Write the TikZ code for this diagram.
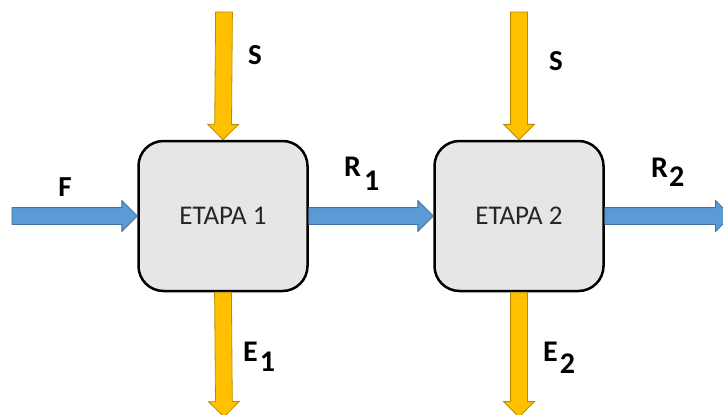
\documentclass[tikz,border=0pt]{standalone}
\usepackage{fontspec}
\setmainfont{Carlito}
\usetikzlibrary{shapes.arrows,calc}

\definecolor{cajagris}{HTML}{E7E6E6}
\definecolor{azul}{HTML}{5B9BD5}
\definecolor{azulborde}{HTML}{41719C}
\definecolor{amarillo}{HTML}{FFC000}
\definecolor{amarilloborde}{HTML}{BC8C00}

\begin{document}
\begin{tikzpicture}[x=1pt, y=-1pt,
    etapa/.style={draw=black, line width=2.5pt, fill=cajagris, rounded corners=25pt,
        minimum width=169pt, minimum height=150pt, inner sep=0pt,
        font=\fontsize{27}{27}\selectfont, text=black!85},
    flecha/.style={single arrow, single arrow head extend=7pt, single arrow tip angle=90,
        inner xsep=0pt, inner ysep=8pt, outer sep=0pt, line width=0.8pt,
        sloped, allow upside down, pos=0, anchor=tail},
    flechaazul/.style={flecha, fill=azul, draw=azulborde},
    flechaamarilla/.style={flecha, fill=amarillo, draw=amarilloborde},
    etiqueta/.style={inner sep=0pt, font=\fontsize{29}{29}\selectfont\bfseries},
    etiquetasub/.style={inner sep=0pt, anchor=base west, font=\fontsize{30}{30}\selectfont\bfseries}]

    \useasboundingbox (0,0) rectangle (723,415);

    % etapas
    \node[etapa] (etapa1) at (223,216) {ETAPA 1};
    \node[etapa] (etapa2) at (519,216) {ETAPA 2};

    % extremos libres
    \coordinate (alimento) at (12,216);
    \coordinate (s1) at (224,12);
    \coordinate (e1) at (224,417);
    \coordinate (s2) at (519,12);
    \coordinate (e2) at (519,417);
    \coordinate (r2) at (731,216);

    % corrientes
    \path let \p1=($(etapa1.west)-(alimento)$), \n1={veclen(\x1,\y1)} in
        (alimento) -- (etapa1.west) node[flechaazul, minimum height=\n1] (fF) {};
    \path let \p1=($(etapa2.west)-(etapa1.east)$), \n1={veclen(\x1,\y1)} in
        (etapa1.east) -- (etapa2.west) node[flechaazul, minimum height=\n1] (fR1) {};
    \path let \p1=($(r2)-(etapa2.east)$), \n1={veclen(\x1,\y1)} in
        (etapa2.east) -- (r2) node[flechaazul, minimum height=\n1] (fR2) {};
    \path let \p1=($(etapa1.north)-(s1)$), \n1={veclen(\x1,\y1)} in
        (s1) -- (etapa1.north) node[flechaamarilla, minimum height=\n1] (fS1) {};
    \path let \p1=($(e1)-(etapa1.south)$), \n1={veclen(\x1,\y1)} in
        (etapa1.south) -- (e1) node[flechaamarilla, minimum height=\n1] (fE1) {};
    \path let \p1=($(etapa2.north)-(s2)$), \n1={veclen(\x1,\y1)} in
        (s2) -- (etapa2.north) node[flechaamarilla, minimum height=\n1] (fS2) {};
    \path let \p1=($(e2)-(etapa2.south)$), \n1={veclen(\x1,\y1)} in
        (etapa2.south) -- (e2) node[flechaamarilla, minimum height=\n1] (fE2) {};

    % etiquetas
    \node[etiqueta] (lF) at (65,187) {F};
    \node[etiqueta] (lS1) at (255,55) {S};
    \node[etiqueta] (lS2) at (556,61) {S};
    \node[etiquetasub] (lR1) at (344,176) {R\kern3pt\raisebox{-14pt}{1}};
    \node[etiquetasub] (lE1) at (243,361) {E\kern2pt\raisebox{-10pt}{1}};
    \node[etiquetasub] (lR2) at (651,177) {R\kern1pt\raisebox{-9pt}{2}};
    \node[etiquetasub] (lE2) at (543,361) {E\kern2pt\raisebox{-12pt}{2}};

\end{tikzpicture}
\end{document}
